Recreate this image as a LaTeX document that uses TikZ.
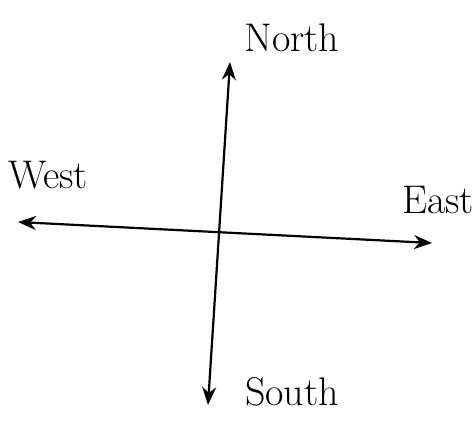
\documentclass[tikz,border=0pt]{standalone}
\usetikzlibrary{arrows.meta}
\begin{document}
\begin{tikzpicture}[x=0.5pt, y=-0.5pt,
  axis/.style={line width=1.1pt, {Stealth[length=9pt,width=7pt]}-{Stealth[length=9pt,width=7pt]}},
  dirlabel/.style={font=\fontsize{20}{24}\selectfont}]
  \useasboundingbox (0,0) rectangle (474,434);
  % arrow tips
  \coordinate (n) at (230,62);
  \coordinate (s) at (208,405);
  \coordinate (w) at (18,222);
  \coordinate (e) at (432,243);
  % labels
  \node[dirlabel] (north) at (292,38) {North};
  \node[dirlabel] (west) at (48,175) {West};
  \node[dirlabel] (east) at (438,200) {East};
  \node[dirlabel] (south) at (292,392) {South};
  % axes
  \draw[axis] (w) -- (e);
  \draw[axis] (n) -- (s);
\end{tikzpicture}
\end{document}
